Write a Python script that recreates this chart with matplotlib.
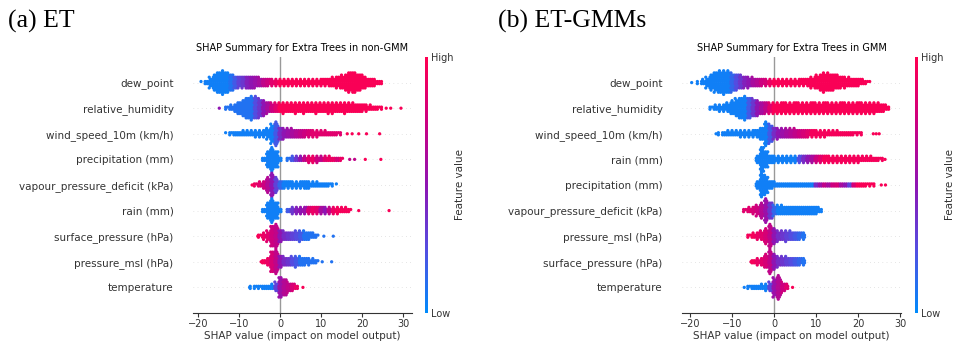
import numpy as np
import matplotlib.pyplot as plt
from matplotlib.colors import LinearSegmentedColormap
import matplotlib as mpl

# ---- data ----
# each feature: first SHAP bin (bins are 1 unit wide), number of dots per bin,
# feature value (0 = low, 1 = high) per bin, and a few stray points (shap, value)

features_et = ['dew_point', 'relative_humidity', 'wind_speed_10m (km/h)', 'precipitation (mm)',
               'vapour_pressure_deficit (kPa)', 'rain (mm)', 'surface_pressure (hPa)',
               'pressure_msl (hPa)', 'temperature']
start_et = [-19, -13, -13, -4, -6, -4, -5, -4, -7]
counts_et = [
    [1, 4, 10, 16, 20, 22, 20, 16, 12, 11, 11, 12, 12, 11, 9, 8, 7, 6, 6, 6, 6, 6, 6, 6, 6, 6, 6, 6, 6,
     7, 7, 8, 9, 11, 13, 16, 19, 20, 16, 13, 10, 8, 6, 4, 2],
    [3, 5, 8, 12, 16, 20, 22, 21, 18, 14, 11, 9, 9, 9, 10, 9, 9, 10, 9, 10, 9, 9, 10, 9, 9, 10, 10, 9,
     9, 10, 9, 9, 8, 7, 6, 5, 4, 3, 2],
    [1, 3, 4, 4, 5, 5, 5, 6, 6, 7, 10, 18, 22, 12, 10, 9, 9, 8, 8, 7, 7, 6, 6, 5, 5, 4, 4, 3, 2],
    [4, 16, 22, 16, 4, 0, 3, 5, 5, 5, 5, 6, 6, 6, 5, 5, 5, 4, 4, 3],
    [3, 5, 8, 14, 22, 14, 8, 7, 7, 6, 6, 7, 8, 6, 5, 5, 4, 4, 3, 2, 1],
    [4, 16, 22, 16, 4, 0, 4, 6, 6, 6, 7, 7, 7, 7, 7, 6, 6, 6, 6, 5, 5, 3],
    [3, 6, 10, 20, 22, 12, 9, 8, 8, 9, 10, 9, 7, 5, 3],
    [4, 8, 20, 22, 12, 9, 8, 9, 10, 9, 7, 6, 5, 3],
    [2, 3, 3, 4, 4, 5, 9, 20, 16, 10, 7, 4],
]
values_et = [
    [0.05] * 7 + [0.1, 0.2, 0.3, 0.35, 0.45, 0.5, 0.55, 0.6, 0.7, 0.75, 0.85, 0.9] + [0.97] * 26,
    [0.1] * 7 + [0.25, 0.35, 0.5, 0.6, 0.75, 0.85] + [0.97] * 26,
    [0.05] * 12 + [0.2, 0.4, 0.5, 0.55, 0.6, 0.65, 0.7, 0.75, 0.8] + [0.85] * 8,
    [0.05] * 5 + [0.1, 0.1, 0.2, 0.35, 0.5, 0.7, 0.85, 0.9, 0.75, 0.7, 0.85, 0.9, 0.9, 0.8, 0.9],
    [0.9, 0.85, 0.75, 0.65, 0.5, 0.3, 0.15] + [0.05] * 14,
    [0.05] * 6 + [0.2, 0.35, 0.45, 0.5, 0.55, 0.8, 0.9, 0.85, 0.6, 0.5, 0.7, 0.9, 0.95, 0.95, 0.95, 0.95],
    [0.95, 0.9, 0.85, 0.75, 0.7, 0.5, 0.4, 0.35, 0.3, 0.25, 0.2] + [0.1] * 4,
    [0.95, 0.9, 0.8, 0.7, 0.5, 0.4, 0.35, 0.25, 0.2] + [0.1] * 5,
    [0.05] * 6 + [0.3, 0.55, 0.65, 0.7, 0.8, 0.9],
]
stray_et = [
    [],
    [(-14.8, 0.5), (25.9, 0.97), (27.0, 0.97), (29.5, 0.97)],
    [(16.4, 0.97), (17.6, 0.97), (19.2, 0.97), (21.1, 0.97), (24.3, 0.97)],
    [(17.0, 0.7), (18.2, 0.7), (20.8, 0.97), (24.6, 0.97)],
    [(-6.8, 0.97)],
    [(19.2, 0.97), (26.6, 0.97)],
    [(-5.4, 0.97), (10.7, 0.1), (13.0, 0.1)],
    [(-4.6, 0.95), (10.3, 0.1), (12.6, 0.1)],
    [(-7.4, 0.05), (5.6, 0.97)],
]

features_gmm = ['dew_point', 'relative_humidity', 'wind_speed_10m (km/h)', 'rain (mm)',
                'precipitation (mm)', 'vapour_pressure_deficit (kPa)', 'pressure_msl (hPa)',
                'surface_pressure (hPa)', 'temperature']
start_gmm = [-18, -15, -13, -4, -4, -7, -6, -5, -6]
counts_gmm = [
    [2, 5, 10, 15, 19, 21, 22, 21, 18, 15, 13, 11, 10, 9, 8, 7, 6, 6, 6, 6, 6, 6, 6, 6, 7, 7, 8, 10,
     13, 16, 18, 17, 15, 13, 11, 10, 9, 8, 7, 5, 3, 1],
    [3, 5, 6, 7, 9, 13, 17, 20, 22, 20, 17, 14, 12, 11, 10, 10, 10, 11, 10, 10, 11, 10, 10, 10, 11, 10,
     10, 11, 10, 10, 10, 11, 10, 10, 10, 11, 10, 10, 10, 10, 9, 7, 4],
    [2, 4, 5, 5, 5, 6, 6, 6, 7, 8, 12, 22, 18, 11, 10, 9, 9, 9, 9, 8, 8, 7, 7, 6, 6, 6, 5, 5, 5, 4, 4,
     4, 3, 3, 2],
    [8, 24, 16, 8, 6, 6, 6, 6, 6, 6, 7, 7, 7, 7, 7, 7, 7, 6, 6, 6, 6, 6, 6, 6, 6, 5, 5, 5, 4, 3, 2],
    [8, 22, 18, 8, 5, 4, 4, 4, 4, 4, 4, 4, 4, 4, 4, 4, 4, 4, 4, 4, 4, 4, 4, 4, 4, 4, 3, 3, 2],
    [3, 5, 7, 10, 14, 22, 16, 10, 9, 9, 8, 8, 8, 8, 8, 8, 8, 7, 4],
    [3, 5, 7, 9, 14, 22, 14, 10, 9, 10, 9, 8, 7, 6],
    [4, 6, 8, 13, 22, 14, 10, 9, 9, 8, 8, 7, 6],
    [3, 4, 4, 5, 6, 9, 18, 22, 10, 5],
]
values_gmm = [
    [0.05] * 8 + [0.15, 0.25, 0.35, 0.45, 0.5, 0.6, 0.65, 0.75, 0.8, 0.9] + [0.97] * 24,
    [0.05] * 9 + [0.2, 0.35, 0.5, 0.6, 0.7, 0.85] + [0.97] * 28,
    [0.05] * 12 + [0.2, 0.4, 0.5, 0.55, 0.6, 0.65, 0.7, 0.75, 0.8, 0.85] + [0.95] * 13,
    [0.05] * 10 + [0.25, 0.4, 0.5, 0.6, 0.75, 0.85] + [0.95] * 15,
    [0.05] * 14 + [0.4, 0.55, 0.7, 0.6, 0.75, 0.8, 0.6, 0.5, 0.3, 0.8] + [0.97] * 5,
    [0.85, 0.85, 0.8, 0.75, 0.65, 0.55, 0.35, 0.15] + [0.05] * 11,
    [0.95, 0.95, 0.9, 0.85, 0.8, 0.7, 0.5, 0.4, 0.35, 0.3, 0.25, 0.2, 0.15, 0.1],
    [0.95, 0.9, 0.85, 0.8, 0.7, 0.5, 0.4, 0.35, 0.3, 0.25, 0.2, 0.15, 0.1],
    [0.05] * 5 + [0.3, 0.55, 0.65, 0.75, 0.85],
]
stray_gmm = [
    [(-19.6, 0.05)],
    [],
    [(-13.8, 0.05), (23.6, 0.97), (24.3, 0.97), (25.0, 0.97)],
    [(26.4, 0.97)],
    [(25.5, 0.97), (26.5, 0.97)],
    [],
    [],
    [(-5.5, 0.95)],
    [(-7.1, 0.05), (4.4, 0.97)],
]

# shap style red/blue colormap
red_blue = LinearSegmentedColormap.from_list(
    'red_blue', [(0.0, 0.545, 0.984), (0.33, 0.3, 0.88), (0.56, 0.08, 0.7),
                 (0.8, 0.0, 0.5), (1.0, 0.0, 0.318)])

DY = 0.084   # vertical step between dot layers (in row units)
DOT = 5.5


def beeswarm(ax, cax, feats, starts, counts, values, strays, title, xlim):
    nf = len(feats)
    for i in range(nf):
        row = nf - 1 - i
        ax.axhline(row, color='#cccccc', lw=0.5, dashes=(1, 5), zorder=-1)
        xs, ys, cs = [], [], []
        for j, n in enumerate(counts[i]):
            for k in range(n):
                # four dots per layer (two above, two below), layers packed like bricks
                level = k // 4
                side = 1 if k % 2 == 0 else -1
                shift = 0.0 if level % 2 == 0 else 0.25
                dx = (-0.25 if (k // 2) % 2 == 0 else 0.25) + shift
                xs.append(starts[i] + j + dx)
                ys.append(row + side * (level + 0.5) * DY)
                cs.append(values[i][j])
        for sx, sv in strays[i]:
            xs.append(sx)
            ys.append(row)
            cs.append(sv)
        ax.scatter(xs, ys, c=cs, cmap=red_blue, vmin=0, vmax=1, s=DOT,
                   linewidths=0, rasterized=True)
    ax.axvline(0, color='#999999', lw=1, zorder=-1)
    ax.set_xlim(*xlim)
    ax.set_ylim(-1, nf)
    ax.set_yticks(range(nf))
    ax.set_yticklabels(feats[::-1], fontsize=7.5, color='#333333')
    ax.tick_params(axis='y', length=0, pad=14)
    ax.set_xticks([-20, -10, 0, 10, 20, 30])
    ax.tick_params(axis='x', labelsize=7, colors='#333333', length=3, pad=1.5)
    for s in ['top', 'left', 'right']:
        ax.spines[s].set_visible(False)
    ax.spines['bottom'].set_color('#333333')
    ax.set_xlabel('SHAP value (impact on model output)', fontsize=7.5, color='#333333', labelpad=1)
    ax.set_title(title, fontsize=7, pad=4)

    cb = mpl.colorbar.ColorbarBase(cax, cmap=red_blue, ticks=[0, 1])
    cb.set_ticklabels(['Low', 'High'])
    cb.outline.set_visible(False)
    cax.tick_params(length=0, labelsize=7, pad=2, colors='#333333')
    cb.set_label('Feature value', fontsize=7.5, labelpad=1, color='#333333')


fig = plt.figure(figsize=(9.56, 3.45), dpi=100)

ax1 = fig.add_axes([0.2019, 0.0928, 0.2291, 0.742])
cax1 = fig.add_axes([0.4446, 0.0928, 0.0031, 0.742])
beeswarm(ax1, cax1, features_et, start_et, counts_et, values_et, stray_et,
         'SHAP Summary for Extra Trees in non-GMM', (-21.2, 32.2))

ax2 = fig.add_axes([0.7134, 0.0928, 0.2291, 0.742])
cax2 = fig.add_axes([0.9571, 0.0928, 0.0031, 0.742])
beeswarm(ax2, cax2, features_gmm, start_gmm, counts_gmm, values_gmm, stray_gmm,
         'SHAP Summary for Extra Trees in GMM', (-21.9, 30.2))

fig.text(0.008, 0.938, '(a) ET', fontsize=18.5, family='Liberation Serif', va='center')
fig.text(0.521, 0.938, '(b) ET-GMMs', fontsize=18.5, family='Liberation Serif', va='center')

plt.savefig('out.png', dpi=100)
